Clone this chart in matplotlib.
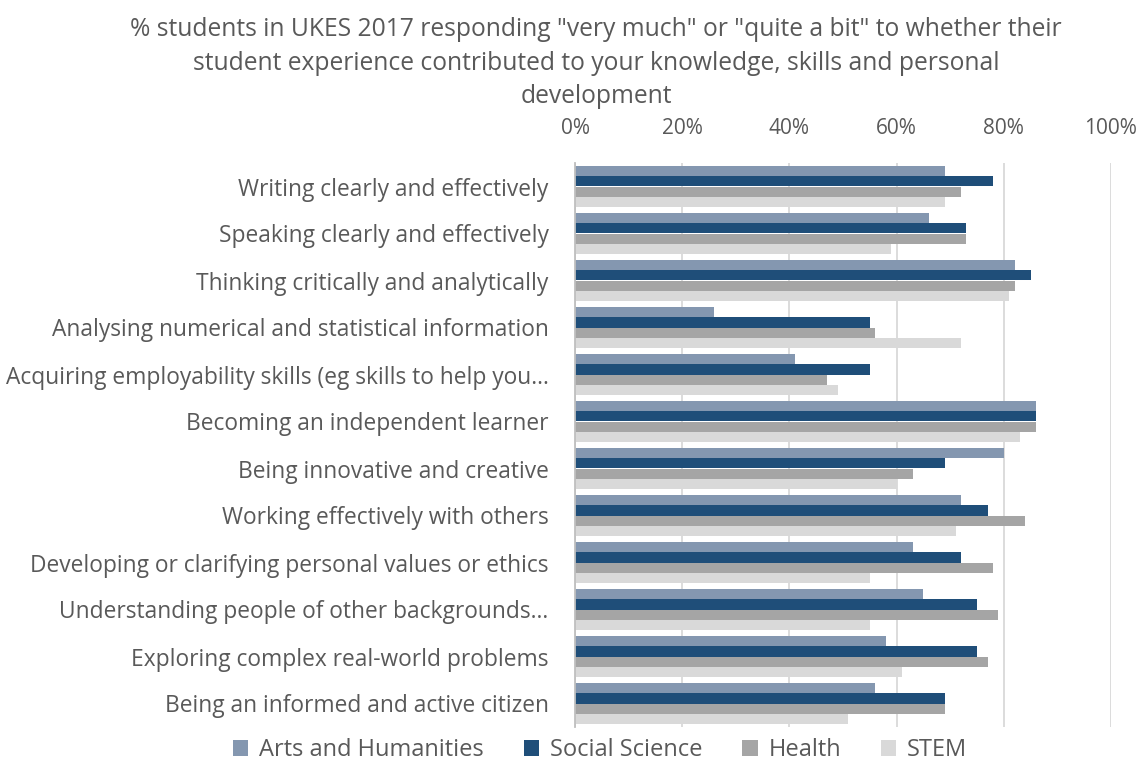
import matplotlib.pyplot as plt
import numpy as np
from matplotlib.ticker import PercentFormatter

# skills asked about in UKES 2017 (top to bottom as in the chart)
skills = [
    "Writing clearly and effectively",
    "Speaking clearly and effectively",
    "Thinking critically and analytically",
    "Analysing numerical and statistical information",
    "Acquiring employability skills (eg skills to help you\u2026",
    "Becoming an independent learner",
    "Being innovative and creative",
    "Working effectively with others",
    "Developing or clarifying personal values or ethics",
    "Understanding people of other backgrounds\u2026",
    "Exploring complex real-world problems",
    "Being an informed and active citizen",
]

# % responding "very much" / "quite a bit"
arts = [69, 66, 82, 26, 41, 86, 80, 72, 63, 65, 58, 56]
social = [78, 73, 85, 55, 55, 86, 69, 77, 72, 75, 75, 69]
health = [72, 73, 82, 56, 47, 86, 63, 84, 78, 79, 77, 69]
stem = [69, 59, 81, 72, 49, 83, 60, 71, 55, 55, 61, 51]

series = [
    ("Arts and Humanities", arts, "#8497B0"),
    ("Social Science", social, "#1F4E79"),
    ("Health", health, "#A5A5A5"),
    ("STEM", stem, "#D9D9D9"),
]

text_col = "#595959"
font = ["Open Sans", "DejaVu Sans"]

fig = plt.figure(figsize=(11.43, 7.60), dpi=100)
ax = fig.add_axes([575 / 1143, 1 - 727 / 760, (1111 - 575) / 1143, (727 - 163) / 760])

y = np.arange(len(skills))
h = 0.22
for i, (name, vals, col) in enumerate(series):
    ax.barh(y + (i - 1.5) * h, vals, height=h, color=col, label=name, linewidth=0)

ax.set_ylim(len(skills) - 0.5, -0.5)
ax.set_xlim(0, 100)
ax.set_xticks(np.arange(0, 101, 20))
ax.xaxis.set_major_formatter(PercentFormatter(decimals=0))
ax.xaxis.tick_top()
ax.set_yticks(y)
ax.set_yticklabels(skills)

ax.tick_params(axis="x", length=0, pad=17, labelsize=15, labelcolor=text_col)
ax.tick_params(axis="y", length=0, pad=19, labelsize=16.4, labelcolor=text_col)
for lab in ax.get_xticklabels() + ax.get_yticklabels():
    lab.set_family(font)

ax.grid(axis="x", color="#D9D9D9", linewidth=1.3)
ax.set_axisbelow(True)
for side in ["top", "right", "bottom"]:
    ax.spines[side].set_visible(False)
ax.spines["left"].set_color("#BFBFBF")
ax.spines["left"].set_linewidth(1.3)

fig.text(
    596 / 1143, 1 - 63 / 760,
    '% students in UKES 2017 responding "very much" or "quite a bit" to whether their\n'
    "student experience contributed to your knowledge, skills and personal\n"
    "development",
    ha="center", va="center", multialignment="center", fontsize=17.7,
    color=text_col, family=font, linespacing=1.43,
)

leg = fig.legend(
    loc="center", bbox_to_anchor=(600 / 1143, 1 - 750 / 760), ncol=4, frameon=False,
    handlelength=0.65, handleheight=0.65, handletextpad=0.45, columnspacing=1.7,
    borderpad=0, prop={"family": font, "size": 17},
)
for t in leg.get_texts():
    t.set_color(text_col)

fig.savefig("out.png", dpi=100)
